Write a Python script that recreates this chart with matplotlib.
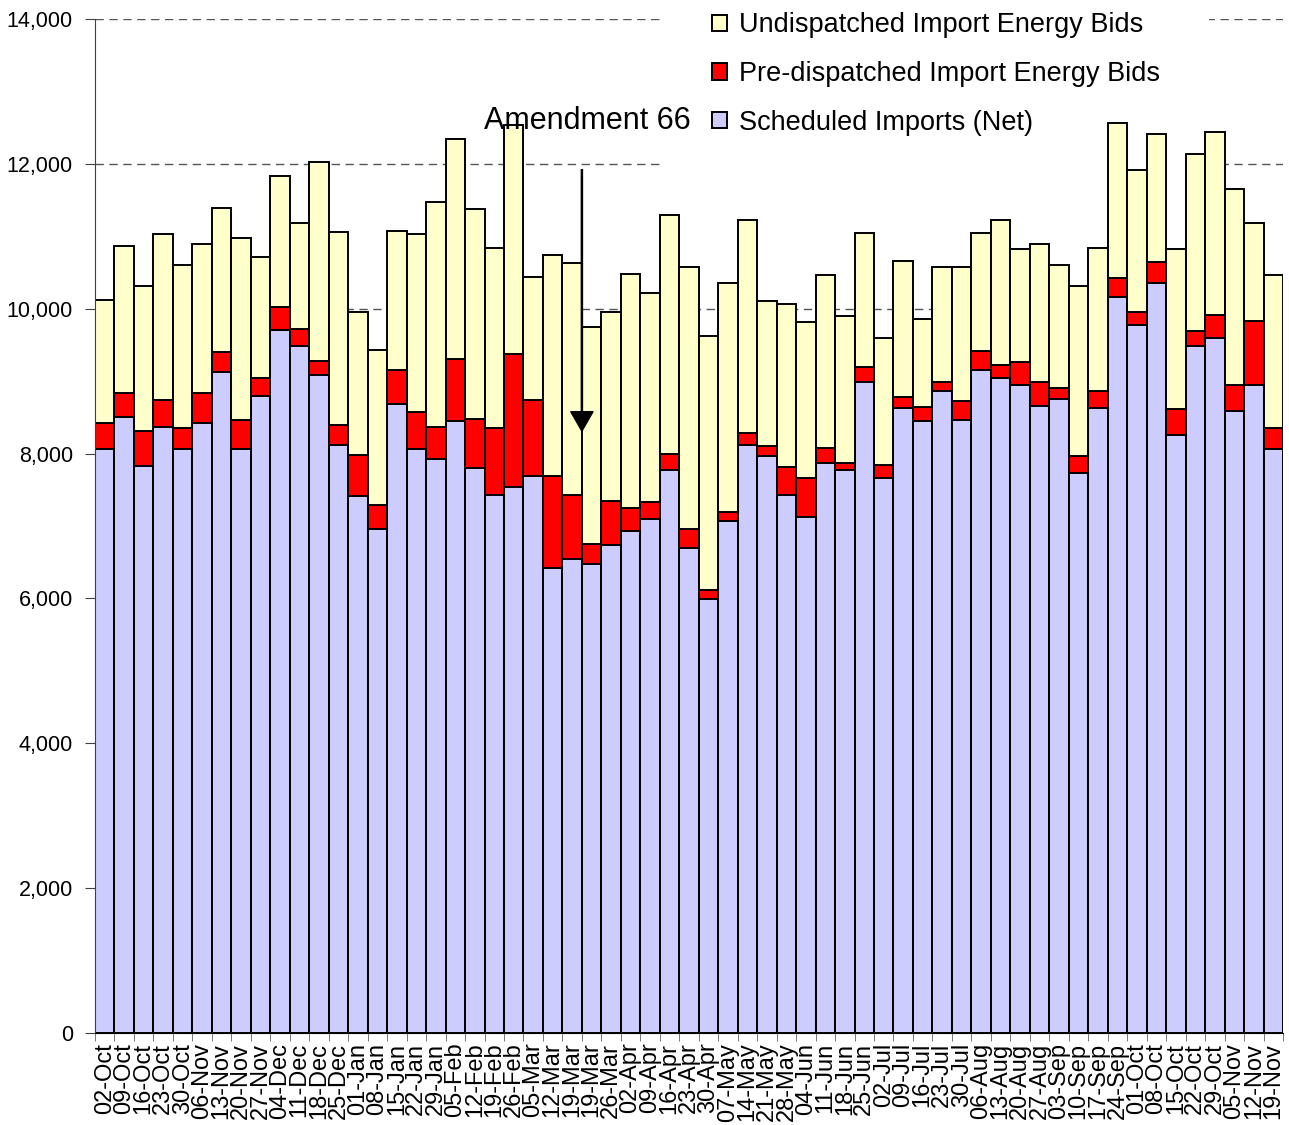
import numpy as np
import matplotlib
matplotlib.use('Agg')
import matplotlib.pyplot as plt
from matplotlib.ticker import FuncFormatter

plt.rcParams['font.family'] = ['Liberation Sans', 'DejaVu Sans']

weeks = ['02-Oct', '09-Oct', '16-Oct', '23-Oct', '30-Oct', '06-Nov', '13-Nov', '20-Nov',
         '27-Nov', '04-Dec', '11-Dec', '18-Dec', '25-Dec', '01-Jan', '08-Jan', '15-Jan',
         '22-Jan', '29-Jan', '05-Feb', '12-Feb', '19-Feb', '26-Feb', '05-Mar', '12-Mar',
         '19-Mar', '19-Mar', '26-Mar', '02-Apr', '09-Apr', '16-Apr', '23-Apr', '30-Apr',
         '07-May', '14-May', '21-May', '28-May', '04-Jun', '11-Jun', '18-Jun', '25-Jun',
         '02-Jul', '09-Jul', '16-Jul', '23-Jul', '30-Jul', '06-Aug', '13-Aug', '20-Aug',
         '27-Aug', '03-Sep', '10-Sep', '17-Sep', '24-Sep', '01-Oct', '08-Oct', '15-Oct',
         '22-Oct', '29-Oct', '05-Nov', '12-Nov', '19-Nov']

# MW
scheduled = [8070, 8510, 7830, 8360, 8070, 8420, 9120, 8070, 8800, 9710,
             9480, 9080, 8120, 7420, 6960, 8690, 8070, 7930, 8450, 7800,
             7430, 7540, 7690, 6420, 6540, 6480, 6740, 6930, 7100, 7770,
             6690, 5990, 7070, 8120, 7960, 7430, 7130, 7870, 7780, 8990,
             7660, 8630, 8450, 8860, 8460, 9150, 9050, 8950, 8660, 8750,
             7730, 8630, 10160, 9770, 10350, 8250, 9480, 9590, 8590, 8950, 8070]
predispatched = [350, 330, 480, 380, 280, 420, 280, 400, 240, 310,
                 240, 200, 270, 560, 330, 470, 500, 430, 850, 680,
                 920, 1830, 1050, 1270, 890, 270, 610, 320, 230, 220,
                 270, 130, 120, 160, 140, 390, 530, 210, 90, 200,
                 180, 150, 190, 130, 260, 270, 170, 320, 330, 150,
                 230, 240, 270, 180, 300, 370, 210, 330, 360, 880, 280]
undispatched = [1700, 2020, 2000, 2290, 2250, 2050, 1990, 2510, 1680, 1810,
                1470, 2750, 2670, 1970, 2140, 1910, 2460, 3110, 3050, 2900,
                2490, 3160, 1700, 3050, 3200, 3000, 2610, 3230, 2890, 3300,
                3610, 3510, 3170, 2950, 2000, 2250, 2150, 2380, 2030, 1850,
                1760, 1880, 1220, 1580, 1850, 1620, 2000, 1560, 1900, 1700,
                2350, 1970, 2140, 1970, 1760, 2210, 2440, 2520, 2700, 1350, 2120]

fig = plt.figure(figsize=(12.89, 11.25), dpi=100)
ax = fig.add_axes([95/1289, 1 - 1033/1125, (1283 - 95)/1289, (1033 - 19)/1125])

x = np.arange(len(weeks))
tops = np.array(scheduled) + np.array(predispatched)
style = dict(width=1.0, edgecolor='black', linewidth=1.4)
b1 = ax.bar(x, scheduled, color='#CCCCFF', label='Scheduled Imports (Net)', **style)
b2 = ax.bar(x, predispatched, bottom=scheduled, color='#FF0000',
            label='Pre-dispatched Import Energy Bids', **style)
b3 = ax.bar(x, undispatched, bottom=tops, color='#FFFFCC',
            label='Undispatched Import Energy Bids', **style)

ax.set_xlim(-0.5, len(weeks) - 0.5)
ax.set_ylim(0, 14000)
ax.set_yticks(range(0, 14001, 2000))
ax.yaxis.set_major_formatter(FuncFormatter(lambda v, p: f'{v:,.0f}'))
ax.set_xticks(x)
ax.set_xticklabels(weeks, rotation=90, fontsize=17)
ax.set_xticks(np.arange(-0.5, len(weeks)), minor=True)
ax.tick_params(axis='x', which='major', length=0, pad=7)
ax.tick_params(axis='x', which='minor', length=6, color='#606060')
ax.tick_params(axis='y', length=7, labelsize=15.5, pad=9, color='#404040')

ax.grid(axis='y', linestyle=(0, (6, 4)), color='#555555', linewidth=1)
ax.set_axisbelow(True)
ax.spines['top'].set_visible(False)
ax.spines['right'].set_visible(False)
ax.spines['left'].set_color('#404040')

leg = ax.legend(handles=[b3, b2, b1], loc='upper left',
                bbox_to_anchor=(650/1289, 1 + 50/1125), bbox_transform=fig.transFigure,
                fontsize=19.5, frameon=True, facecolor='white', edgecolor='none',
                framealpha=1, fancybox=False, handlelength=0.55, handleheight=0.55,
                handletextpad=0.45, labelspacing=0.84, borderpad=1.8)
leg.set_zorder(0.8)

# Amendment 66 marker
ax.annotate('', xy=(24.5, 8310), xytext=(24.5, 11920),
            arrowprops=dict(facecolor='black', edgecolor='black', width=0.8,
                            headwidth=16, headlength=14, shrink=0))
ax.text(19.45, 12590, 'Amendment 66', fontsize=22, ha='left', va='center', zorder=5)

plt.savefig('out.png', dpi=100)
